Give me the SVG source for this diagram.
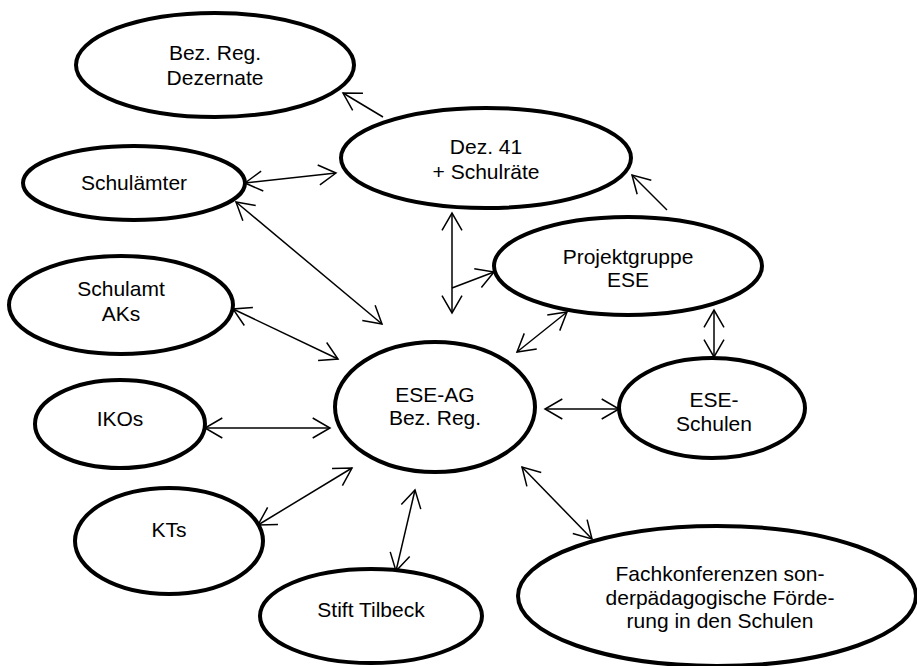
<svg xmlns="http://www.w3.org/2000/svg" width="917" height="666" viewBox="0 0 917 666">
<defs>
<style>
.node ellipse{fill:#fff;stroke:#000;stroke-width:4}
.node text{font-family:"Liberation Sans",Arial,sans-serif;font-size:21px;fill:#000;text-anchor:middle}
.conn line{stroke:#000;stroke-width:1.5;fill:none}
.both{marker-start:url(#ah);marker-end:url(#ah)}
.one{marker-end:url(#ah)}
</style>
<marker id="ah" markerUnits="userSpaceOnUse" markerWidth="30" markerHeight="30" viewBox="-24 -15 30 30" refX="0" refY="0" orient="auto-start-reverse" overflow="visible">
<path d="M-17.3,-10 L0,0 L-17.3,10" fill="none" stroke="#000" stroke-width="1.5"/>
</marker>
</defs>
<rect width="917" height="666" fill="#fff"/>
<g id="connectors" class="conn">
<line class="one" x1="383" y1="117" x2="343" y2="93"/>
<line class="both" x1="245" y1="183" x2="336" y2="173"/>
<line class="both" x1="236" y1="202" x2="382" y2="324"/>
<line class="both" x1="233" y1="309" x2="338" y2="359"/>
<line class="both" x1="205" y1="428" x2="330" y2="428"/>
<line class="both" x1="452" y1="213" x2="452" y2="313"/>
<line class="one" x1="452" y1="288" x2="494" y2="272"/>
<line class="one" x1="667" y1="210" x2="632" y2="175"/>
<line class="both" x1="567" y1="312" x2="517" y2="352"/>
<line class="both" x1="714" y1="310" x2="714" y2="357"/>
<line class="both" x1="545" y1="409" x2="619" y2="409"/>
<line class="both" x1="522" y1="467" x2="592" y2="539"/>
<line class="both" x1="415" y1="490" x2="396" y2="571"/>
<line class="both" x1="352" y1="468" x2="258" y2="525"/>
</g>
<g id="bezreg-dezernate" class="node">
<ellipse cx="215" cy="65" rx="139" ry="52"/>
<text x="215" y="60">Bez. Reg.</text>
<text x="215" y="85">Dezernate</text>
</g>
<g id="schulaemter" class="node">
<ellipse cx="134" cy="183" rx="111" ry="37"/>
<text x="134" y="190">Schulämter</text>
</g>
<g id="dez41" class="node">
<ellipse cx="486" cy="158" rx="145" ry="50"/>
<text x="486" y="154">Dez. 41</text>
<text x="486" y="179">+ Schulräte</text>
</g>
<g id="projektgruppe" class="node">
<ellipse cx="628" cy="266" rx="134" ry="49"/>
<text x="628" y="264">Projektgruppe</text>
<text x="628" y="287">ESE</text>
</g>
<g id="schulamt-aks" class="node">
<ellipse cx="121" cy="305" rx="112" ry="49"/>
<text x="121" y="296">Schulamt</text>
<text x="121" y="321">AKs</text>
</g>
<g id="ese-ag" class="node">
<ellipse cx="435" cy="407" rx="100" ry="65"/>
<text x="435" y="402">ESE-AG</text>
<text x="435" y="425">Bez. Reg.</text>
</g>
<g id="ese-schulen" class="node">
<ellipse cx="712" cy="408" rx="93" ry="50"/>
<text x="714" y="407">ESE-</text>
<text x="714" y="431">Schulen</text>
</g>
<g id="ikos" class="node">
<ellipse cx="120" cy="424" rx="85" ry="44"/>
<text x="120" y="426">IKOs</text>
</g>
<g id="kts" class="node">
<ellipse cx="169" cy="541" rx="94" ry="53"/>
<text x="169" y="537">KTs</text>
</g>
<g id="stift-tilbeck" class="node">
<ellipse cx="371" cy="616" rx="111" ry="47"/>
<text x="371" y="617">Stift Tilbeck</text>
</g>
<g id="fachkonferenzen" class="node">
<ellipse cx="717" cy="596" rx="199" ry="70"/>
<text x="720" y="581">Fachkonferenzen son-</text>
<text x="720" y="605">derpädagogische Förde-</text>
<text x="720" y="628">rung in den Schulen</text>
</g>
</svg>
